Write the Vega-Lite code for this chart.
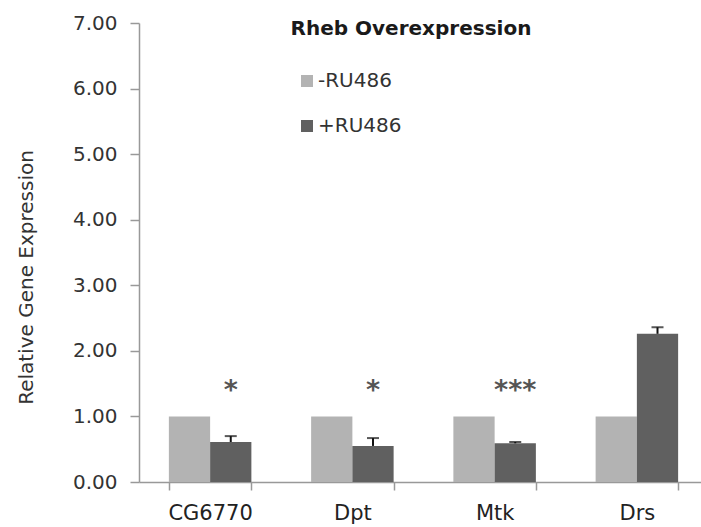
{
  "$schema": "https://vega.github.io/schema/vega-lite/v6.json",
  "width": 562,
  "height": 459,
  "autosize": "none",
  "padding": {"left": 139, "top": 23, "right": 0, "bottom": 45},
  "background": "white",
  "config": {"view": {"stroke": null}, "font": "DejaVu Sans"},
  "title": {
    "text": "Rheb Overexpression",
    "font": "DejaVu Sans",
    "fontSize": 20,
    "fontWeight": "bold",
    "color": "#1a1a1a",
    "anchor": "middle",
    "baseline": "alphabetic",
    "offset": -7,
    "dx": -9,
    "dy": 35
  },
  "datasets": {
    "bars": [
      {"gene": "CG6770", "group": "-RU486", "value": 1.0},
      {"gene": "CG6770", "group": "+RU486", "value": 0.61, "upper": 0.70},
      {"gene": "Dpt", "group": "-RU486", "value": 1.0},
      {"gene": "Dpt", "group": "+RU486", "value": 0.55, "upper": 0.67},
      {"gene": "Mtk", "group": "-RU486", "value": 1.0},
      {"gene": "Mtk", "group": "+RU486", "value": 0.59, "upper": 0.61},
      {"gene": "Drs", "group": "-RU486", "value": 1.0},
      {"gene": "Drs", "group": "+RU486", "value": 2.26, "upper": 2.36}
    ],
    "sig": [
      {"gene": "CG6770", "group": "+RU486", "pos": 1.27, "label": "*"},
      {"gene": "Dpt", "group": "+RU486", "pos": 1.27, "label": "*"},
      {"gene": "Mtk", "group": "+RU486", "pos": 1.27, "label": "***"}
    ]
  },
  "encoding": {
    "x": {
      "field": "gene",
      "type": "nominal",
      "sort": ["CG6770", "Dpt", "Mtk", "Drs"],
      "scale": {"domain": ["CG6770", "Dpt", "Mtk", "Drs"], "range": [0, 569], "paddingInner": 0.42, "paddingOuter": 0.21},
      "axis": {
        "title": null,
        "labelAngle": 0,
        "labelFontSize": 21,
        "labelColor": "#222",
        "labelPadding": 12,
        "tickBand": "extent",
        "tickSize": 8,
        "tickColor": "#999",
        "domainColor": "#999",
        "domainWidth": 1.5,
        "tickWidth": 1.5
      }
    },
    "xOffset": {
      "field": "group",
      "type": "nominal",
      "sort": ["-RU486", "+RU486"],
      "scale": {"domain": ["-RU486", "+RU486"], "paddingInner": 0, "paddingOuter": 0}
    }
  },
  "layer": [
    {
      "data": {"name": "bars"},
      "mark": {"type": "bar"},
      "encoding": {
        "y": {
          "field": "value",
          "type": "quantitative",
          "scale": {"domain": [0, 7], "nice": false},
          "axis": {
            "title": "Relative Gene Expression",
            "titleFontSize": 20,
            "titleFontWeight": "normal",
            "titleColor": "#333",
            "titleX": -113,
            "titleY": 254,
            "titleAlign": "center",
            "titleBaseline": "middle",
            "titleAngle": -90,
            "values": [0, 1, 2, 3, 4, 5, 6, 7],
            "format": ".2f",
            "labelFontSize": 20,
            "labelColor": "#333",
            "labelPadding": 13,
            "tickSize": 9,
            "tickColor": "#999",
            "domainColor": "#999",
            "domainWidth": 1.5,
            "tickWidth": 1.5,
            "grid": false
          }
        },
        "color": {
          "field": "group",
          "type": "nominal",
          "scale": {"domain": ["-RU486", "+RU486"], "range": ["#b3b3b3", "#606060"]},
          "legend": {
            "title": null,
            "orient": "none",
            "legendX": 158,
            "legendY": 48,
            "padding": 0,
            "symbolType": "square",
            "symbolSize": 144,
            "symbolStrokeWidth": 0,
            "labelFontSize": 20,
            "labelColor": "#333",
            "labelOffset": 1,
            "rowPadding": 25
          }
        }
      }
    },
    {
      "data": {"name": "bars"},
      "transform": [{"filter": "isValid(datum.upper)"}],
      "mark": {"type": "rule", "color": "#111", "strokeWidth": 2},
      "encoding": {
        "y": {"field": "value", "type": "quantitative"},
        "y2": {"field": "upper"}
      }
    },
    {
      "data": {"name": "bars"},
      "transform": [{"filter": "isValid(datum.upper)"}],
      "mark": {"type": "tick", "color": "#111", "thickness": 2, "size": 12},
      "encoding": {
        "y": {"field": "upper", "type": "quantitative"}
      }
    },
    {
      "data": {"name": "sig"},
      "mark": {"type": "text", "fontSize": 27, "fontWeight": "bold", "color": "#555", "baseline": "alphabetic", "align": "center"},
      "encoding": {
        "y": {"field": "pos", "type": "quantitative"},
        "text": {"field": "label"}
      }
    }
  ]
}
